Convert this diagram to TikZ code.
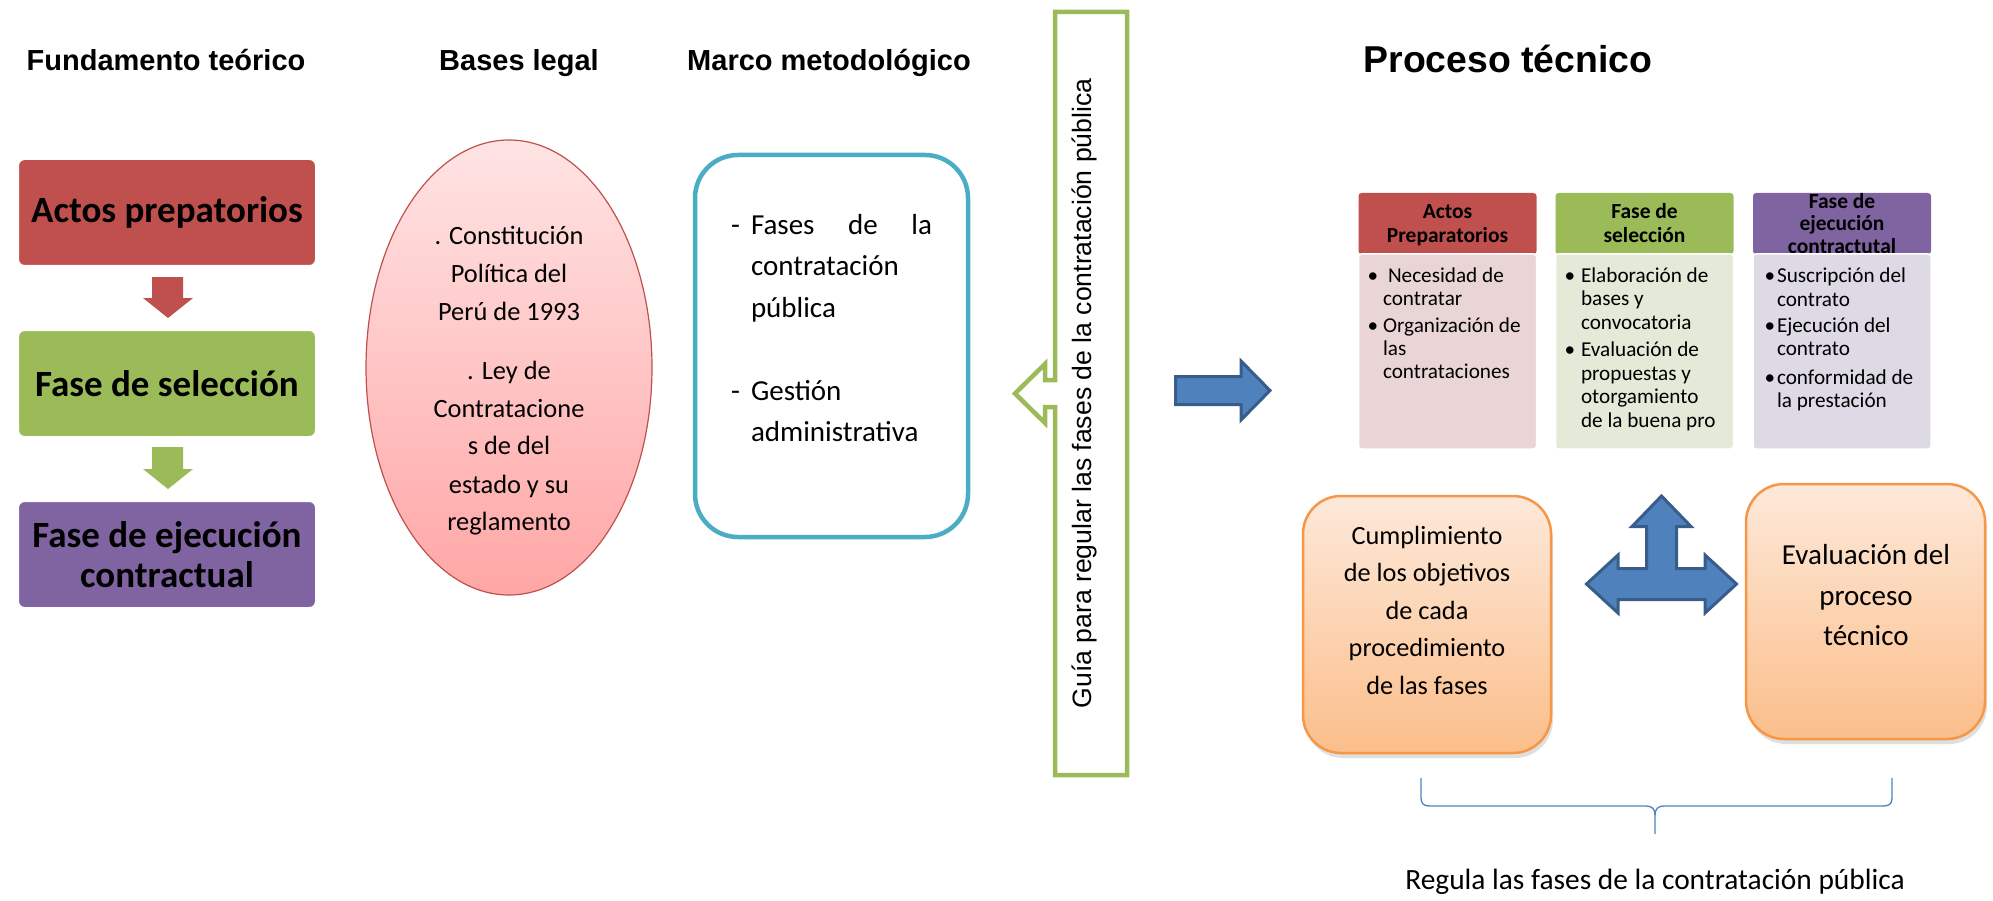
\documentclass[tikz,border=0pt]{standalone}
\usepackage{fontspec}
\setmainfont{Carlito}
\newfontfamily\arialf{Liberation Sans}
\usetikzlibrary{shapes.geometric,shadows}
\definecolor{redA}{HTML}{C0504D}
\definecolor{greenA}{HTML}{9BBB59}
\definecolor{purpA}{HTML}{8064A2}
\definecolor{blueA}{HTML}{4F81BD}
\definecolor{blueB}{HTML}{385D8A}
\definecolor{aquaA}{HTML}{4BACC6}
\definecolor{orgA}{HTML}{F79646}
\definecolor{orgTop}{HTML}{FDE9DA}
\definecolor{orgBot}{HTML}{FBBE8A}
\definecolor{pinkTop}{HTML}{FFE4E4}
\definecolor{pinkBot}{HTML}{FFA6A6}
\definecolor{bodyR}{HTML}{E9D5D5}
\definecolor{bodyG}{HTML}{E3EAD7}
\definecolor{bodyP}{HTML}{DDD9E5}
\newcommand{\fsz}[2]{\fontsize{#1}{#2}\selectfont}
\begin{document}
\begin{tikzpicture}[x=1pt,y=-1pt,
  every node/.style={inner sep=0pt, outer sep=0pt},
  hdr/.style={font=\arialf\bfseries\fsz{29}{34}, anchor=base},
  lbox/.style={draw=white, line width=7pt, rounded corners=9pt, minimum width=303pt, minimum height=112pt,
     font=\bfseries\fsz{37}{40}, align=center,
     drop shadow={shadow xshift=1pt, shadow yshift=-3pt, opacity=0.25}},
  eltxt/.style={font=\fsz{26.4}{30}, anchor=base},
  mmtxt/.style={font=\fsz{29}{32}, anchor=base west},
  thead/.style={minimum width=178pt, minimum height=61pt, rounded corners=3pt},
  htxt/.style={font=\bfseries\fsz{21.5}{24}, anchor=base},
  tbody/.style={minimum width=178pt, minimum height=195pt, rounded corners=3pt, draw=white, line width=1.5pt},
  btxt/.style={font=\fsz{21.2}{23}, anchor=base west},
  bul/.style={font=\fsz{21.2}{23}, anchor=base},
  obox/.style={draw=orgA, line width=2.5pt, rounded corners=38pt, top color=orgTop, bottom color=orgBot,
     drop shadow={shadow xshift=2pt, shadow yshift=-5pt, opacity=0.25}},
  otxt/.style={font=\fsz{26.3}{30}, anchor=base},
  blk/.style={draw=blueB, line width=3pt, fill=blueA, line join=miter},
  brace/.style={draw=blueA, line width=1.3pt}
]
\useasboundingbox (0,0) rectangle (1993,901);

% ---------- headers ----------
\node[hdr] (h1) at (166,71) {Fundamento teórico};
\node[hdr] (h2) at (519,71) {Bases legal};
\node[hdr] (h3) at (829,71) {Marco metodológico};
\node[font=\arialf\bfseries\fsz{37.4}{40}, anchor=base] (h4) at (1508,73) {Proceso técnico};

% ---------- left column ----------
\node[lbox, fill=redA] (lb1) at (167,212.5) {Actos prepatorios};
\node[lbox, fill=greenA] (lb2) at (167,383.5) {Fase de selección};
\node[lbox, fill=purpA] (lb3) at (167,554.5) {Fase de ejecución\\contractual};
\fill[redA] (152,277) -- (183,277) -- (183,298) -- (193,298) -- (168,318) -- (143,298) -- (152,298) -- cycle;
\fill[greenA] (152,447) -- (183,447) -- (183,469) -- (193,469) -- (168,489) -- (143,469) -- (152,469) -- cycle;

% ---------- ellipse ----------
\node[ellipse, draw=redA, line width=1.2pt, top color=pinkTop, bottom color=pinkBot,
      minimum width=286pt, minimum height=455pt] (ell) at (509,367.5) {};
\node[eltxt] (e1) at (509,245) {. Constitución};
\node[eltxt] (e2) at (509,283) {Política del};
\node[eltxt] (e3) at (509,320) {Perú de 1993};
\node[eltxt] (e4) at (509,379) {. Ley de};
\node[eltxt] (e5) at (509,417) {Contratacione};
\node[eltxt] (e6) at (509,454) {s de del};
\node[eltxt] (e7) at (509,493) {estado y su};
\node[eltxt] (e8) at (509,530) {reglamento};

% ---------- blue box ----------
\node[draw=aquaA, line width=4.5pt, rounded corners=43pt, minimum width=273pt, minimum height=382pt] (mm) at (831.5,346) {};
\node[font=\fsz{29}{32}, anchor=base] (d1) at (735.5,235) {-};
\node[mmtxt] (m1) at (751,235) {\makebox[181pt][s]{Fases de la}};
\node[mmtxt] (m2) at (751,276) {contratación};
\node[mmtxt] (m3) at (751,317) {pública};
\node[font=\fsz{29}{32}, anchor=base] (d2) at (735.5,400) {-};
\node[mmtxt] (m4) at (751,400) {Gestión};
\node[mmtxt] (m5) at (751,441) {administrativa};

% ---------- green callout ----------
\draw[greenA, line width=4.5pt, fill=white, line join=miter]
  (1055,12) -- (1055,380) -- (1045,380) -- (1045,364) -- (1015,393.5) -- (1045,423) -- (1045,407)
  -- (1055,407) -- (1055,775) -- (1127,775) -- (1127,12) -- cycle;
\node[rotate=90, font=\arialf\fsz{26.6}{30}] (gt) at (1084,393.5) {Guía para regular las fases de la contratación pública};

% ---------- blue arrow ----------
\draw[blk] (1175.5,376.5) -- (1241,376.5) -- (1241,361) -- (1270,390.5) -- (1241,420) -- (1241,404.5) -- (1175.5,404.5) -- cycle;

% ---------- top right boxes ----------
\node[thead, fill=redA] (t1h) at (1447.5,223.5) {};
\node[thead, fill=greenA] (t2h) at (1644.5,223.5) {};
\node[thead, fill=purpA] (t3h) at (1842,223.5) {};
\node[htxt] (a1) at (1447.5,219) {Actos};
\node[htxt] (a2) at (1447.5,243) {Preparatorios};
\node[htxt] (b1) at (1644.5,219) {Fase de};
\node[htxt] (b2) at (1644.5,243) {selección};
\node[htxt] (c1) at (1842,209) {Fase de};
\node[htxt] (c2) at (1842,231) {ejecución};
\node[htxt] (c3) at (1842,254) {contractutal};
\node[tbody, fill=bodyR] (t1b) at (1447.5,351.5) {};
\node[tbody, fill=bodyG] (t2b) at (1644.5,351.5) {};
\node[tbody, fill=bodyP] (t3b) at (1842,351.5) {};
% box 1
\node[bul] (p1) at (1373,282) {•};
\node[btxt] (p2) at (1388,282) {Necesidad de};
\node[btxt] (p3) at (1383,305) {contratar};
\node[bul] (p4) at (1373,332) {•};
\node[btxt] (p5) at (1383,332) {Organización de};
\node[btxt] (p6) at (1383,355) {las};
\node[btxt] (p7) at (1383,378) {contrataciones};
% box 2
\node[bul] (q1) at (1570,282) {•};
\node[btxt] (q2) at (1581,282) {Elaboración de};
\node[btxt] (q3) at (1581,305) {bases y};
\node[btxt] (q4) at (1581,329) {convocatoria};
\node[bul] (q5) at (1570,356) {•};
\node[btxt] (q6) at (1581,356) {Evaluación de};
\node[btxt] (q7) at (1581,380) {propuestas y};
\node[btxt] (q8) at (1581,403) {otorgamiento};
\node[btxt] (q9) at (1581,427) {de la buena pro};
% box 3
\node[bul] (r1) at (1770,282) {•};
\node[btxt] (r2) at (1777,282) {Suscripción del};
\node[btxt] (r3) at (1777,306) {contrato};
\node[bul] (r4) at (1770,332) {•};
\node[btxt] (r5) at (1777,332) {Ejecución del};
\node[btxt] (r6) at (1777,355) {contrato};
\node[bul] (r7) at (1770,384) {•};
\node[btxt] (r8) at (1777,384) {conformidad de};
\node[btxt] (r9) at (1777,407) {la prestación};

% ---------- orange boxes ----------
\node[obox, minimum width=248pt, minimum height=257pt] (o1) at (1427,624.5) {};
\node[obox, minimum width=239pt, minimum height=255pt] (o2) at (1865.5,611.5) {};
\node[otxt] (oa1) at (1427,544) {Cumplimiento};
\node[otxt] (oa2) at (1427,581) {de los objetivos};
\node[otxt] (oa3) at (1427,619) {de cada};
\node[otxt] (oa4) at (1427,656) {procedimiento};
\node[otxt] (oa5) at (1427,694) {de las fases};
\node[font=\fsz{29}{32}, anchor=base] (ob1) at (1866,564) {Evaluación del};
\node[font=\fsz{29}{32}, anchor=base] (ob2) at (1866,605) {proceso};
\node[font=\fsz{29}{32}, anchor=base] (ob3) at (1866,645) {técnico};

% ---------- three-way arrow ----------
\draw[blk] (1586.5,584) -- (1618,555) -- (1618,568.5) -- (1646.5,568.5) -- (1646.5,526.5) -- (1632,526.5)
  -- (1661.5,496) -- (1691,526.5) -- (1676.5,526.5) -- (1676.5,568.5) -- (1705,568.5) -- (1705,555)
  -- (1736.5,584) -- (1705,613) -- (1705,599.5) -- (1618,599.5) -- (1618,613) -- cycle;

% ---------- brace ----------
\coordinate (brL) at (1421,778);
\coordinate (brR) at (1892,778);
\coordinate (brM) at (1655,834);
\draw[brace] (brL) -- (1421,798) .. controls (1421,804) and (1424,806) .. (1430,806) -- (1646,806)
  .. controls (1652,806) and (1655,809) .. (1655,815) -- (brM);
\draw[brace] (brR) -- (1892,798) .. controls (1892,804) and (1889,806) .. (1883,806) -- (1664,806)
  .. controls (1658,806) and (1655,809) .. (1655,815);
\node[font=\fsz{29.4}{32}, anchor=base] (reg) at (1655,889) {Regula las fases de la contratación pública};
\end{tikzpicture}
\end{document}
